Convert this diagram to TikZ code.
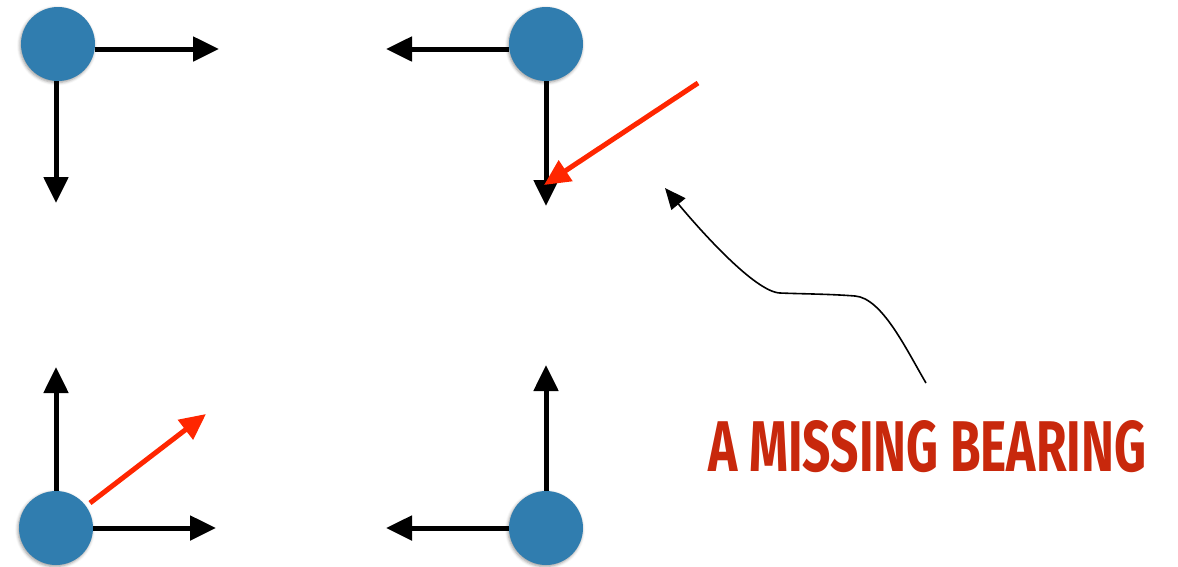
\documentclass[tikz,border=0pt]{standalone}
\usepackage{graphicx}
\usepackage{fontspec}
\newfontfamily\labelfont{Fira Sans}
\usetikzlibrary{arrows.meta,shadows.blur}
\definecolor{dotblue}{RGB}{48,125,175}
\definecolor{hotred}{RGB}{255,38,0}
\definecolor{labelred}{RGB}{200,40,12}
\begin{document}
\begin{tikzpicture}[x=1pt,y=-1pt,
  dot/.style={circle, fill=dotblue, minimum size=74pt, inner sep=0pt,
    blur shadow={shadow xshift=-1pt, shadow yshift=-1.5pt,
                 shadow blur radius=3pt, shadow opacity=40}},
  axis/.style={line width=5pt, -{Triangle[length=26pt,width=24pt]}},
  bearing/.style={axis, draw=hotred, -{Triangle[length=26pt,width=24pt,fill=hotred]}},
  pointer/.style={line width=1.6pt, -{Triangle[length=21pt,width=18pt]}}]
\useasboundingbox (0,0) rectangle (1178,566);

% bearing points at the four corners
\node[dot] (tl) at (58,44) {};
\node[dot] (tr) at (546,44) {};
\node[dot] (bl) at (56,528) {};
\node[dot] (br) at (546,528) {};

% tips of the local axes
\coordinate (tlR) at (219,49);
\coordinate (tlD) at (56,203);
\coordinate (trL) at (386,49);
\coordinate (trD) at (546,206);
\coordinate (blU) at (56,367);
\coordinate (blR) at (216,528);
\coordinate (brU) at (546,365);
\coordinate (brL) at (386,528);

\draw[axis] (tl.east |- tlR) -- (tlR);
\draw[axis] (tl.south -| tlD) -- (tlD);
\draw[axis] (tr.west |- trL) -- (trL);
\draw[axis] (tr.south -| trD) -- (trD);
\draw[axis] (bl.north -| blU) -- (blU);
\draw[axis] (bl.east |- blR) -- (blR);
\draw[axis] (br.north -| brU) -- (brU);
\draw[axis] (br.west |- brL) -- (brL);

% bearings in red
\coordinate (redAs) at (698,83);
\coordinate (redAt) at (544,185);
\coordinate (redBs) at (90,503);
\coordinate (redBt) at (206,414);
\draw[bearing] (redAs) -- (redAt);
\draw[bearing] (redBs) -- (redBt);

% label and its pointer
\node[anchor=south west, inner sep=0pt, text=labelred] (label) at (708,473)
  {\resizebox{438pt}{51pt}{\labelfont\bfseries A MISSING BEARING}};
\coordinate (ps) at (926,383);
\coordinate (pt) at (665,188);
\draw[pointer] (ps) .. controls (906,349) and (882,298) .. (855,296)
  .. controls (830,294) and (805,294) .. (780,293)
  .. controls (755,292) and (700,230) .. (pt);
\end{tikzpicture}
\end{document}
